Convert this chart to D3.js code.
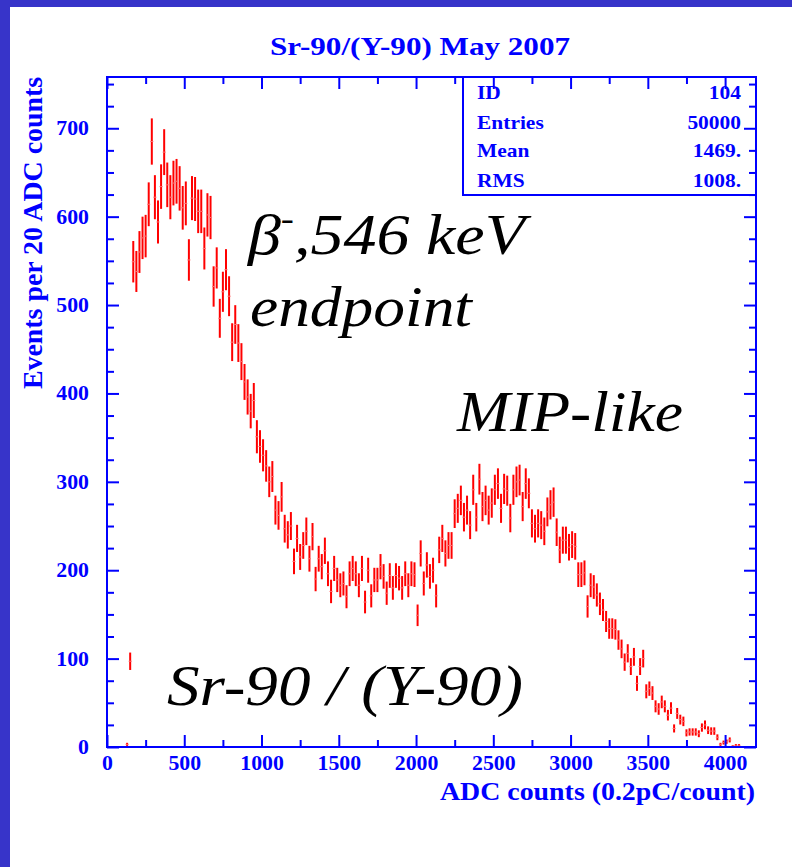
<!DOCTYPE html>
<html><head><meta charset="utf-8">
<script src="https://cdn.jsdelivr.net/npm/d3@7"></script>
<style>html,body{margin:0;padding:0;background:#fff;} svg{display:block}</style>
</head><body>
<script>
// ---------------- DATA ----------------
const binStart = 120;
const binWidth = 20;
const counts = [
  3, 97, 549, 538, 560, 576, 578, 614, 685, 622,
  594, 634, 673, 636, 622, 638, 640, 632, 610, 615,
  551, 621, 620, 606, 606, 564, 602, 599, 521, 542,
  485, 515, 540, 510, 458, 478, 457, 436, 413, 396,
  380, 392, 351, 340, 330, 318, 300, 306, 268, 262,
  283, 247, 240, 250, 210, 236, 215, 228, 244, 213,
  238, 190, 213, 204, 222, 196, 176, 202, 189, 183,
  185, 170, 196, 202, 196, 183, 202, 164, 200, 171,
  189, 189, 204, 193, 174, 194, 180, 194, 191, 180,
  196, 183, 196, 195, 149, 219, 185, 206, 193, 200,
  171, 223, 236, 219, 228, 228, 264, 270, 279, 260,
  268, 251, 291, 260, 303, 272, 279, 268, 276, 291,
  298, 270, 292, 290, 259, 291, 300, 302, 272, 298,
  287, 253, 247, 253, 251, 244, 266, 274, 277, 243,
  223, 234, 234, 226, 229, 227, 195, 195, 197, 159,
  183, 181, 172, 162, 155, 142, 134, 134, 133, 121,
  111, 96, 106, 91, 102, 72, 91, 100, 63, 66,
  61, 46, 43, 51, 46, 36, 44, 21, 38, 31,
  29, 16, 17, 17, 17, 15, 22, 25, 19, 18,
  18, 11, 3, 5, 6, 8, 1, 2, 2
];
const xMajorTicks = [0, 500, 1000, 1500, 2000, 2500, 3000, 3500, 4000];
const xMinorTicks = [250, 750, 1250, 1750, 2250, 2750, 3250, 3750];
const yMajorTicks = [0, 100, 200, 300, 400, 500, 600, 700];
const yMinorTicks = [25, 50, 75, 125, 150, 175, 225, 250, 275, 325, 350, 375, 425, 450, 475, 525, 550, 575, 625, 650, 675, 725, 750];
const statsLabels = ["ID", "Entries", "Mean", "RMS"];
const statsValues = ["104", "50000", "1469.", "1008."];
const titleText = "Sr-90/(Y-90) May 2007";
const xTitle = "ADC counts (0.2pC/count)";
const yTitle = "Events per 20 ADC counts";

// ---------------- LAYOUT ----------------
const W = 792, H = 867;
const BLUE = "#0000ff";
const SLIDE = "#3734c9";
const RED = "#ff0000";
const F = "'Liberation Serif','Times New Roman',serif";
const SX = 1.09; // horizontal stretch of the original picture

const svg = d3.select("body").append("svg").attr("width", W).attr("height", H);
svg.append("rect").attr("width", W).attr("height", H).attr("fill", SLIDE);
svg.append("rect").attr("x", 10).attr("y", 7).attr("width", W - 10).attr("height", H - 7).attr("fill", "#ffffff");

const L = 107, R = 756, T = 77, B = 747;
const x = d3.scaleLinear().domain([0, 4200]).range([L, R]);
const y = d3.scaleLinear().domain([0, 758]).range([B, T]);

function stretch(sel, k) {
  sel.each(function () {
    const w = this.getComputedTextLength();
    d3.select(this).attr("textLength", w * k).attr("lengthAdjust", "spacingAndGlyphs");
  });
}

// stats box (under ticks)
const boxL = 463, boxB = 195;
svg.append("rect").attr("x", boxL).attr("y", T).attr("width", R - boxL).attr("height", boxB - T)
  .attr("fill", "#fff").attr("stroke", BLUE).attr("stroke-width", 2);
const statsBase = [99, 129, 157, 187];
const st = svg.append("g").attr("font-family", F).attr("font-weight", "bold").attr("font-size", 19.5).attr("fill", BLUE);
st.selectAll("text.l").data(statsLabels).join("text").attr("class", "l")
  .attr("x", 477).attr("y", (d, i) => statsBase[i]).text(d => d).call(stretch, 1.1);
st.selectAll("text.v").data(statsValues).join("text").attr("class", "v")
  .attr("x", 741).attr("y", (d, i) => statsBase[i]).attr("text-anchor", "end").text(d => d).call(stretch, 1.1);

// data: error bars
const bins = counts.map((n, i) => ({ x0: binStart + i * binWidth, n: n }));
const dg = svg.append("g");
dg.selectAll("line.e").data(bins).join("line").attr("class", "e")
  .attr("x1", d => x(d.x0 + binWidth / 2)).attr("x2", d => x(d.x0 + binWidth / 2))
  .attr("y1", d => y(Math.max(0, d.n - Math.sqrt(d.n)))).attr("y2", d => y(d.n + Math.sqrt(d.n)))
  .attr("stroke", RED).attr("stroke-width", 2);
dg.selectAll("line.h").data(bins).join("line").attr("class", "h")
  .attr("x1", d => x(d.x0)).attr("x2", d => x(d.x0 + binWidth))
  .attr("y1", d => y(d.n)).attr("y2", d => y(d.n))
  .attr("stroke", "#ff7070").attr("stroke-width", 1);

// axes
function styleAxis(g) {
  g.select(".domain").remove();
  g.selectAll(".tick line").attr("stroke", BLUE).attr("stroke-width", 2);
  g.selectAll(".tick text").attr("fill", BLUE).attr("font-family", F).attr("font-weight", "bold").attr("font-size", 20);
}
const ax = [];
ax.push(svg.append("g").attr("transform", `translate(0,${B})`)
  .call(d3.axisBottom(x).tickValues(xMajorTicks).tickSize(-12).tickSizeOuter(0).tickPadding(9).tickFormat(d3.format("d"))));
ax.push(svg.append("g").attr("transform", `translate(0,${B})`)
  .call(d3.axisBottom(x).tickValues(xMinorTicks).tickSize(-7).tickSizeOuter(0).tickFormat("")));
ax.push(svg.append("g").attr("transform", `translate(0,${T})`)
  .call(d3.axisTop(x).tickValues(xMajorTicks).tickSize(-12).tickSizeOuter(0).tickFormat("")));
ax.push(svg.append("g").attr("transform", `translate(0,${T})`)
  .call(d3.axisTop(x).tickValues(xMinorTicks).tickSize(-7).tickSizeOuter(0).tickFormat("")));
ax.push(svg.append("g").attr("transform", `translate(${L},0)`)
  .call(d3.axisLeft(y).tickValues(yMajorTicks).tickSize(-12).tickSizeOuter(0).tickPadding(18).tickFormat(d3.format("d"))));
ax.push(svg.append("g").attr("transform", `translate(${L},0)`)
  .call(d3.axisLeft(y).tickValues(yMinorTicks).tickSize(-7).tickSizeOuter(0).tickFormat("")));
ax.push(svg.append("g").attr("transform", `translate(${R},0)`)
  .call(d3.axisRight(y).tickValues(yMajorTicks).tickSize(-12).tickSizeOuter(0).tickFormat("")));
ax.push(svg.append("g").attr("transform", `translate(${R},0)`)
  .call(d3.axisRight(y).tickValues(yMinorTicks).tickSize(-7).tickSizeOuter(0).tickFormat("")));
ax.forEach(g => { styleAxis(g); g.selectAll(".tick text").call(stretch, SX); });

// frame
svg.append("rect").attr("x", L).attr("y", T).attr("width", R - L).attr("height", B - T)
  .attr("fill", "none").attr("stroke", BLUE).attr("stroke-width", 2);

// titles
svg.append("text").attr("x", 270).attr("y", 55).attr("font-family", F).attr("font-weight", "bold")
  .attr("font-size", 26).attr("fill", BLUE).text(titleText)
  .attr("textLength", 300).attr("lengthAdjust", "spacingAndGlyphs");
svg.append("text").attr("x", 755).attr("y", 800).attr("text-anchor", "end").attr("font-family", F)
  .attr("font-weight", "bold").attr("font-size", 26).attr("fill", BLUE).text(xTitle)
  .attr("textLength", 315).attr("lengthAdjust", "spacingAndGlyphs");
svg.append("text").attr("transform", `translate(42,${T}) rotate(-90)`).attr("text-anchor", "end")
  .attr("font-family", F).attr("font-weight", "bold").attr("font-size", 27).attr("fill", BLUE).text(yTitle)
  .attr("textLength", 312).attr("lengthAdjust", "spacingAndGlyphs");

// annotations
const ann = svg.append("g").attr("font-family", F).attr("font-style", "italic").attr("font-size", 57).attr("fill", "#000");
const t1 = ann.append("text").attr("x", 248).attr("y", 254);
t1.append("tspan").text("β");
t1.append("tspan").attr("dy", -24).attr("font-size", 34).text("-");
t1.append("tspan").attr("dy", 24).text(",546 keV");
t1.attr("textLength", 277).attr("lengthAdjust", "spacingAndGlyphs");
ann.append("text").attr("x", 250).attr("y", 326).text("endpoint").attr("textLength", 222).attr("lengthAdjust", "spacingAndGlyphs");
ann.append("text").attr("x", 457).attr("y", 431).text("MIP-like").attr("textLength", 226).attr("lengthAdjust", "spacingAndGlyphs");
ann.append("text").attr("x", 167).attr("y", 705).text("Sr-90 / (Y-90)").attr("textLength", 356).attr("lengthAdjust", "spacingAndGlyphs");
</script>
</body></html>
